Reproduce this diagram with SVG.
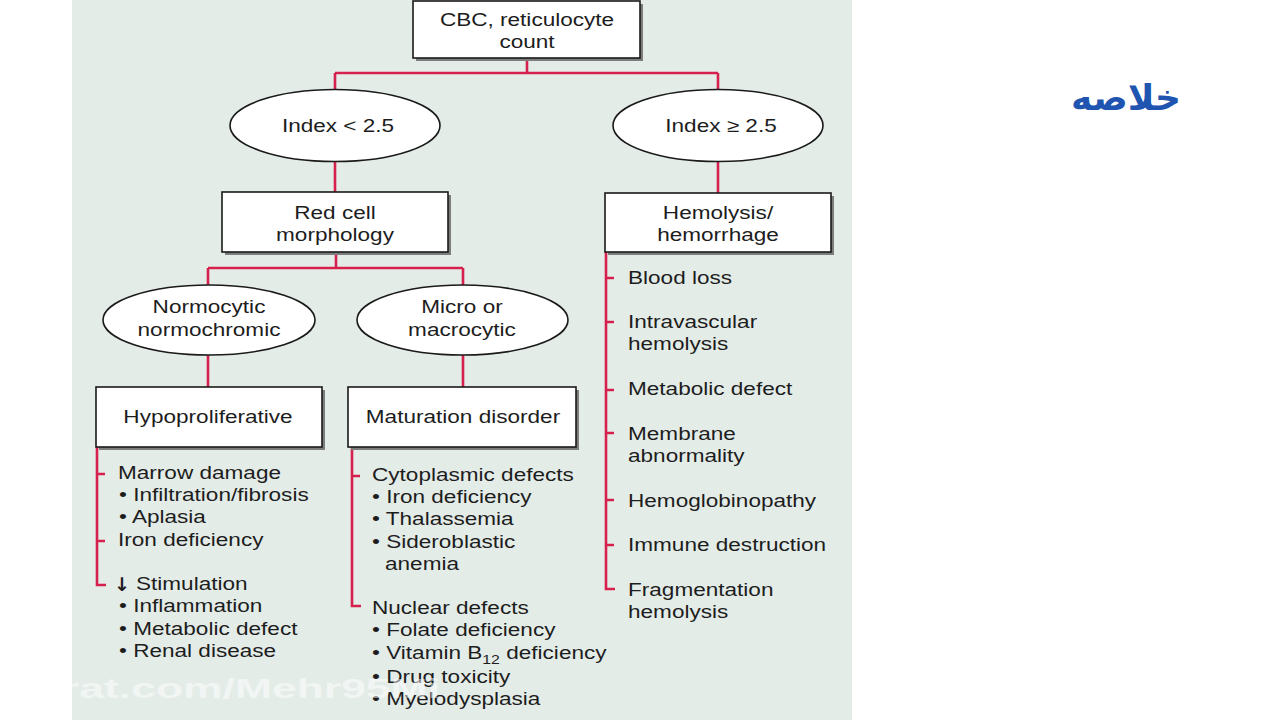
<svg xmlns="http://www.w3.org/2000/svg" width="1280" height="720" viewBox="0 0 1280 720">
<style>
.t{font-family:"Liberation Sans",Arial,Helvetica,sans-serif;font-size:18.5px;fill:#1d1d1d}
.c{text-anchor:middle}
.box{fill:#ffffff;stroke:#1a1a1a;stroke-width:1.6}
.sh{fill:#7d7d7d}
.ell{fill:#ffffff;stroke:#1a1a1a;stroke-width:1.6}
.ln{fill:none;stroke:#d6204e;stroke-width:2.6}
</style>
<rect x="0" y="0" width="1280" height="720" fill="#ffffff"/>
<rect x="72" y="0" width="780" height="720" fill="#e4ece8"/>

<g id="connectors">
<path class="ln" d="M527,58 V73 M335,73 H718 M335,73 V90 M718,73 V90"/>
<path class="ln" d="M335,162 V192 M718,162 V193"/>
<path class="ln" d="M336,252 V268 M208,268 H463 M208,268 V285 M463,268 V285"/>
<path class="ln" d="M208,355 V387 M463,355 V387"/>
<path class="ln" d="M97,447 V585 H106 M97,474 H105 M97,541 H105"/>
<path class="ln" d="M352,447 V606 H361 M352,476 H360"/>
<path class="ln" d="M606,252 V589 H615 M606,278 H614 M606,322 H614 M606,390 H614 M606,433 H614 M606,500 H614 M606,545 H614"/>
</g>

<g id="cbc">
<rect class="sh" x="416" y="4" width="227" height="57"/>
<rect class="box" x="413" y="1" width="227" height="57"/>
<text class="t c" transform="translate(527,26) scale(1.22,1)">CBC, reticulocyte</text>
<text class="t c" transform="translate(527,48) scale(1.22,1)">count</text>
</g>

<g id="index-low">
<ellipse class="ell" cx="335" cy="125.5" rx="105" ry="36"/>
<text class="t c" transform="translate(338,132) scale(1.22,1)">Index &lt; 2.5</text>
</g>

<g id="index-high">
<ellipse class="ell" cx="718" cy="125.5" rx="105" ry="36"/>
<text class="t c" transform="translate(721,132) scale(1.22,1)">Index ≥ 2.5</text>
</g>

<g id="red-cell">
<rect class="sh" x="225" y="195" width="226" height="60"/>
<rect class="box" x="222" y="192" width="226" height="60"/>
<text class="t c" transform="translate(335,219) scale(1.22,1)">Red cell</text>
<text class="t c" transform="translate(335,241) scale(1.22,1)">morphology</text>
</g>

<g id="hemolysis">
<rect class="sh" x="608" y="196" width="226" height="59"/>
<rect class="box" x="605" y="193" width="226" height="59"/>
<text class="t c" transform="translate(718,219) scale(1.22,1)">Hemolysis/</text>
<text class="t c" transform="translate(718,241) scale(1.22,1)">hemorrhage</text>
</g>

<g id="normocytic">
<ellipse class="ell" cx="209" cy="320" rx="106" ry="35"/>
<text class="t c" transform="translate(209,313) scale(1.22,1)">Normocytic</text>
<text class="t c" transform="translate(209,336) scale(1.22,1)">normochromic</text>
</g>

<g id="micro-macro">
<ellipse class="ell" cx="462.5" cy="320" rx="105.5" ry="35"/>
<text class="t c" transform="translate(462,313) scale(1.22,1)">Micro or</text>
<text class="t c" transform="translate(462,336) scale(1.22,1)">macrocytic</text>
</g>

<g id="hypoproliferative">
<rect class="sh" x="99" y="390" width="226" height="60"/>
<rect class="box" x="96" y="387" width="226" height="60"/>
<text class="t c" transform="translate(208,423) scale(1.22,1)">Hypoproliferative</text>
</g>

<g id="maturation">
<rect class="sh" x="351" y="390" width="228" height="60"/>
<rect class="box" x="348" y="387" width="228" height="60"/>
<text class="t c" transform="translate(463,423) scale(1.22,1)">Maturation disorder</text>
</g>

<g id="hypo-list">
<text class="t" transform="translate(118,479) scale(1.22,1)">Marrow damage</text>
<text class="t" transform="translate(119,501) scale(1.22,1)">• Infiltration/fibrosis</text>
<text class="t" transform="translate(119,523) scale(1.22,1)">• Aplasia</text>
<text class="t" transform="translate(118,546) scale(1.22,1)">Iron deficiency</text>
<text x="114" y="591" font-family="'DejaVu Sans',sans-serif" font-size="19" font-weight="bold" fill="#1d1d1d">↓</text>
<text class="t" transform="translate(136,590) scale(1.22,1)">Stimulation</text>
<text class="t" transform="translate(119,612) scale(1.22,1)">• Inflammation</text>
<text class="t" transform="translate(119,635) scale(1.22,1)">• Metabolic defect</text>
<text class="t" transform="translate(119,657) scale(1.22,1)">• Renal disease</text>
</g>

<g id="maturation-list">
<text class="t" transform="translate(372,481) scale(1.22,1)">Cytoplasmic defects</text>
<text class="t" transform="translate(372,503) scale(1.22,1)">• Iron deficiency</text>
<text class="t" transform="translate(372,525) scale(1.22,1)">• Thalassemia</text>
<text class="t" transform="translate(372,548) scale(1.22,1)">• Sideroblastic</text>
<text class="t" transform="translate(385,570) scale(1.22,1)">anemia</text>
<text class="t" transform="translate(372,614) scale(1.22,1)">Nuclear defects</text>
<text class="t" transform="translate(372,636) scale(1.22,1)">• Folate deficiency</text>
<text class="t" transform="translate(372,659) scale(1.22,1)">• Vitamin B<tspan font-size="13" dy="5">12</tspan><tspan dy="-5"> deficiency</tspan></text>
<text class="t" transform="translate(372,683) scale(1.22,1)">• Drug toxicity</text>
<text class="t" transform="translate(372,705) scale(1.22,1)">• Myelodysplasia</text>
</g>

<g id="hemolysis-list">
<text class="t" transform="translate(628,284) scale(1.22,1)">Blood loss</text>
<text class="t" transform="translate(628,328) scale(1.22,1)">Intravascular</text>
<text class="t" transform="translate(628,350) scale(1.22,1)">hemolysis</text>
<text class="t" transform="translate(628,395) scale(1.22,1)">Metabolic defect</text>
<text class="t" transform="translate(628,440) scale(1.22,1)">Membrane</text>
<text class="t" transform="translate(628,462) scale(1.22,1)">abnormality</text>
<text class="t" transform="translate(628,507) scale(1.22,1)">Hemoglobinopathy</text>
<text class="t" transform="translate(628,551) scale(1.22,1)">Immune destruction</text>
<text class="t" transform="translate(628,596) scale(1.22,1)">Fragmentation</text>
<text class="t" transform="translate(628,618) scale(1.22,1)">hemolysis</text>
</g>

<g id="title">
<text x="1126" y="110" text-anchor="middle" direction="rtl" font-family="'DejaVu Sans','Noto Sans',sans-serif" font-size="36" font-weight="bold" fill="#1f55b0">خلاصه</text>
</g>

<text x="62" y="698" font-family="'Liberation Sans',Arial,sans-serif" font-size="27" font-weight="bold" fill="#ffffff" fill-opacity="0.5" textLength="378" lengthAdjust="spacingAndGlyphs">rat.com/Mehr95Mi</text>
</svg>
